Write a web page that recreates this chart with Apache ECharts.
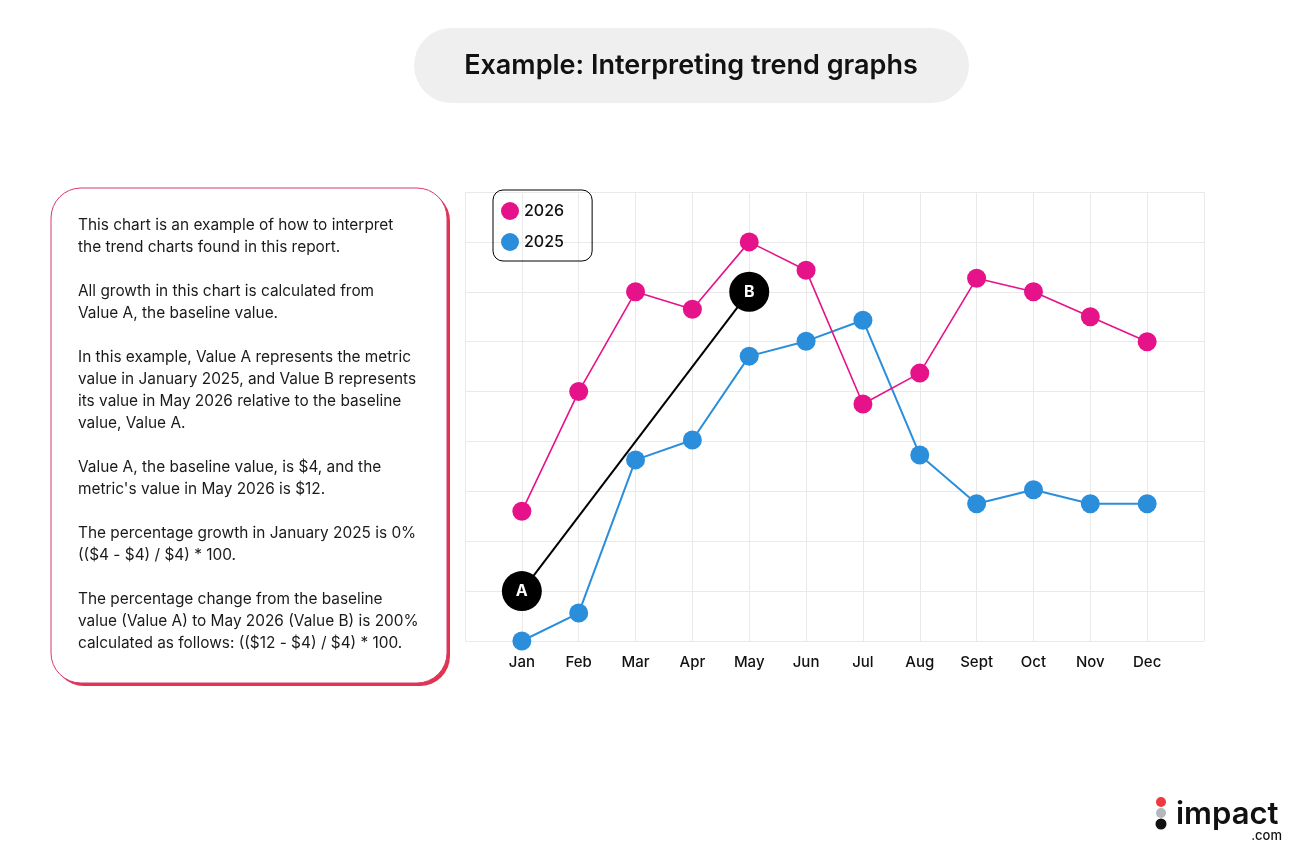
<!DOCTYPE html>
<html>
<head>
<meta charset="utf-8">
<script src="https://cdn.jsdelivr.net/npm/echarts@6/dist/echarts.min.js"></script>
<style>
  html, body { margin: 0; padding: 0; background: #fff; }
  #main { width: 1308px; height: 868px; }
</style>
</head>
<body>
<div id="main"></div>
<script>
// data
var months = ['Jan', 'Feb', 'Mar', 'Apr', 'May', 'Jun', 'Jul', 'Aug', 'Sept', 'Oct', 'Nov', 'Dec'];
var values2026 = [2.6, 5.0, 7.0, 6.65, 8.0, 7.43, 4.75, 5.37, 7.27, 7.0, 6.5, 6.0];
var values2025 = [0, 0.56, 3.63, 4.03, 5.71, 6.01, 6.43, 3.73, 2.75, 3.03, 2.75, 2.75];
// A/B markers: [month index, value]
var markerNames = ['A', 'B'];
var markerPoints = [[0, 1], [4, 7]];

var noteLines = [
  'This chart is an example of how to interpret',
  'the trend charts found in this report.',
  '',
  'All growth in this chart is calculated from',
  'Value A, the baseline value.',
  '',
  'In this example, Value A represents the metric',
  'value in January 2025, and Value B represents',
  'its value in May 2026 relative to the baseline',
  'value, Value A.',
  '',
  'Value A, the baseline value, is $4, and the',
  "metric's value in May 2026 is $12.",
  '',
  'The percentage growth in January 2025 is 0%',
  '(($4 - $4) / $4) * 100.',
  '',
  'The percentage change from the baseline',
  'value (Value A) to May 2026 (Value B) is 200%',
  'calculated as follows: (($12 - $4) / $4) * 100.'
];

var pink = '#E6128A';
var blue = '#2B8EDB';
var font = 'Inter, "Noto Sans", sans-serif';

function pairs(arr) {
  return arr.map(function (v, i) { return [i, v]; });
}

var chart = echarts.init(document.getElementById('main'));
chart.setOption({
  backgroundColor: '#fff',
  animation: false,
  textStyle: { fontFamily: font },
  grid: { left: 465, right: 104, top: 192, bottom: 227 },
  legend: {
    data: ['2026', '2025'],
    orient: 'vertical',
    left: 493,
    top: 190,
    icon: 'circle',
    itemWidth: 18,
    itemHeight: 18,
    itemGap: 13,
    padding: [12, 28, 10, 8],
    borderColor: '#000',
    borderWidth: 1,
    borderRadius: 10,
    textStyle: { fontSize: 16, fontWeight: 500, color: '#111', fontFamily: font }
  },
  xAxis: {
    type: 'value',
    min: -1,
    max: 12,
    interval: 1,
    axisLine: { show: false },
    axisTick: { show: false },
    axisLabel: {
      margin: 14,
      fontSize: 15,
      fontWeight: 500,
      color: '#111',
      fontFamily: font,
      formatter: function (v) { return months[v] || ''; }
    },
    splitLine: { lineStyle: { color: '#e9e9e9', width: 1 } }
  },
  yAxis: {
    type: 'value',
    min: 0,
    max: 9,
    interval: 1,
    axisLine: { show: false },
    axisTick: { show: false },
    axisLabel: { show: false },
    splitLine: { lineStyle: { color: '#e9e9e9', width: 1 } }
  },
  series: [
    {
      name: '2025',
      type: 'line',
      data: pairs(values2025),
      symbol: 'circle',
      symbolSize: 19,
      itemStyle: { color: blue },
      lineStyle: { color: blue, width: 2 },
      z: 3
    },
    {
      name: '2026',
      type: 'line',
      data: pairs(values2026),
      symbol: 'circle',
      symbolSize: 19,
      itemStyle: { color: pink },
      lineStyle: { color: pink, width: 1.6 },
      z: 4
    },
    {
      name: 'markers',
      type: 'line',
      data: markerPoints.map(function (p, i) {
        return { value: p, label: { formatter: markerNames[i] } };
      }),
      symbol: 'circle',
      symbolSize: 40,
      itemStyle: { color: '#000' },
      lineStyle: { color: '#000', width: 2 },
      label: {
        show: true,
        position: 'inside',
        color: '#fff',
        fontSize: 16,
        fontWeight: 'bold',
        fontFamily: font
      },
      z: 5
    }
  ],
  graphic: [
    {
      type: 'rect',
      shape: { x: 414, y: 28, width: 555, height: 75, r: 37.5 },
      style: { fill: '#efefef' }
    },
    {
      type: 'text',
      x: 691,
      y: 66,
      style: {
        text: 'Example: Interpreting trend graphs',
        fill: '#111',
        font: '600 27px ' + font,
        textAlign: 'center',
        textVerticalAlign: 'middle'
      }
    },
    // note box: red offset shadow, then white card with thin pink border
    {
      type: 'rect',
      shape: { x: 54, y: 191, width: 396, height: 495, r: 30 },
      style: { fill: '#e0344f' }
    },
    {
      type: 'rect',
      shape: { x: 51, y: 188, width: 396, height: 495, r: 30 },
      style: { fill: '#fff', stroke: '#d63a6c', lineWidth: 1 }
    },
    {
      type: 'text',
      x: 78,
      y: 214,
      style: {
        text: noteLines.join('\n'),
        fill: '#1a1a1a',
        font: '15.4px ' + font,
        lineHeight: 22,
        textAlign: 'left',
        textVerticalAlign: 'top'
      }
    },
    // impact.com logo
    { type: 'circle', shape: { cx: 1161, cy: 802, r: 5 }, style: { fill: '#ee3a3f' } },
    { type: 'circle', shape: { cx: 1161, cy: 813, r: 5 }, style: { fill: '#b4b8bc' } },
    { type: 'circle', shape: { cx: 1161, cy: 824, r: 5.5 }, style: { fill: '#111' } },
    {
      type: 'text',
      x: 1176,
      y: 830,
      style: {
        text: 'impact',
        fill: '#111',
        font: '600 31px ' + font,
        textAlign: 'left',
        textVerticalAlign: 'bottom'
      }
    },
    {
      type: 'text',
      x: 1282,
      y: 843,
      style: {
        text: '.com',
        fill: '#111',
        font: '500 13px ' + font,
        textAlign: 'right',
        textVerticalAlign: 'bottom'
      }
    }
  ]
});
</script>
</body>
</html>
